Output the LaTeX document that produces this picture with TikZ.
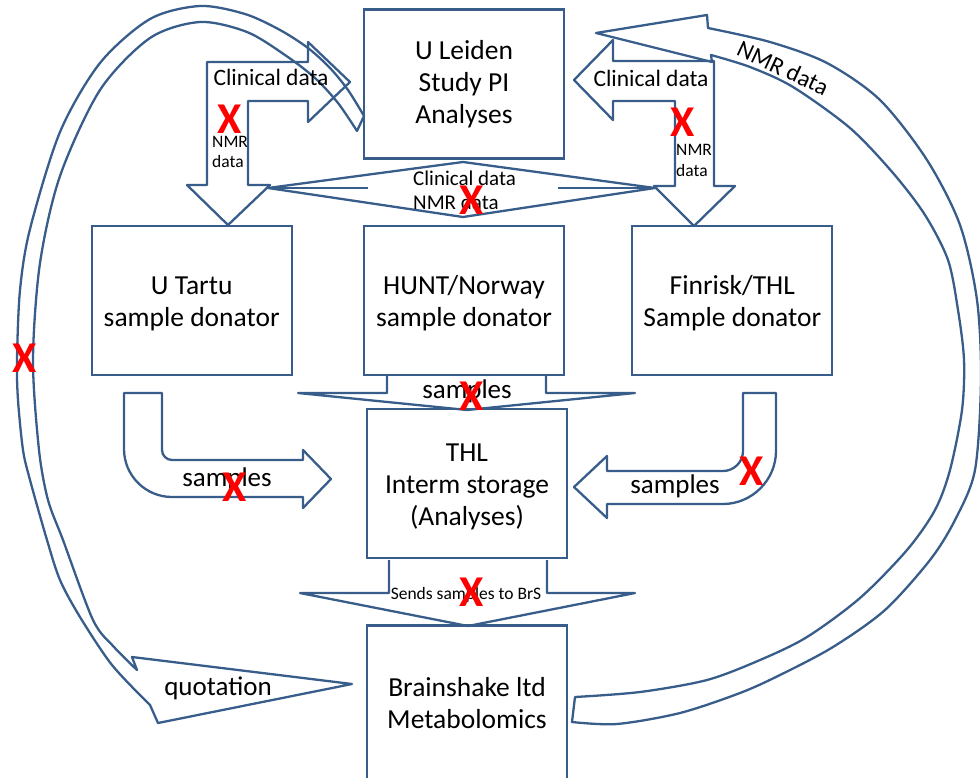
\documentclass[tikz,border=0pt]{standalone}
\usepackage{fontspec}
\setmainfont{Carlito}
\usetikzlibrary{positioning}
\definecolor{shapeblue}{HTML}{385D8A}
\newcommand{\boxstrut}{\rule{0pt}{25pt}}

\begin{document}
\begin{tikzpicture}[
  x=1pt, y=-1pt,
  box/.style={
    draw=shapeblue,
    line width=2.3pt,
    align=center,
    minimum width=200pt,
    minimum height=149pt,
    font=\fontsize{27.5}{32}\selectfont
  },
  blockarrow/.style={draw=shapeblue, line width=2.3pt, line join=round},
  txt/.style={inner sep=0pt, anchor=base, font=\fontsize{27}{32}\selectfont},
  txtmid/.style={txt, font=\fontsize{23.5}{27}\selectfont},
  txtsmall/.style={txt, font=\fontsize{21}{25}\selectfont},
  txttiny/.style={txt, font=\fontsize{17.5}{20}\selectfont},
  cross/.style={inner sep=0pt, text=red, font=\bfseries\fontsize{44}{44}\selectfont}
]
\useasboundingbox (0,0) rectangle (980,777);

\node[box] (leiden) at (464,84) {U Leiden\\Study PI\\Analyses};
\node[box, below=65pt of leiden] (hunt) {\boxstrut HUNT/Norway\\sample donator};
\node[box, left=70pt of hunt] (tartu) {\boxstrut U Tartu\\sample donator};
\node[box, right=66pt of hunt] (finrisk) {\boxstrut Finrisk/THL\\Sample donator};
\node[box, below=32pt of hunt, xshift=3pt] (thl) {\boxstrut THL\\Interm storage\\(Analyses)};
\node[box, below=65pt of thl, minimum height=156pt] (brain) {Brainshake ltd\\Metabolomics};

\draw[blockarrow] (207,185) -- (207,62) -- (308,62) -- (308,42) -- (350,82) -- (308,122) -- (308,101) -- (248,101) -- (248,185) -- (270,185) -- (228,225) -- (187,185) -- cycle;
\draw[blockarrow] (714,186) -- (714,61) -- (613,61) -- (613,40) -- (574,80) -- (613,120) -- (613,101) -- (675,101) -- (675,186) -- (654,186) -- (694,226) -- (735,186) -- cycle;

\draw[blockarrow] (268,188) -- (463,162) -- (655,188) -- (463,217) -- cycle;
\draw[blockarrow] (268,188) -- (368,188) (558,188) -- (655,188);

\draw[blockarrow] (387,376) -- (387,393) -- (298,393) -- (467,410) -- (635,393) -- (546,393) -- (546,376);
\draw[blockarrow] (389,560) -- (389,593) -- (300,593) -- (468,626) -- (635,593) -- (547,593) -- (547,560);

\draw[blockarrow] (124,393) -- (162,393) -- (162,450) .. controls (162,455.5) and (166.5,460) .. (172,460) -- (303,460) -- (303,450) -- (331,479) -- (303,508) -- (303,497) -- (172,497) .. controls (145.5,497) and (124,475.5) .. (124,449) -- cycle;
\draw[blockarrow] (743,393) -- (776,393) -- (776,451) .. controls (776,480) and (752,504) .. (723,504) -- (607,504) -- (607,518) -- (574,487) -- (607,456) -- (607,471) -- (723,471) .. controls (734,471) and (743,462) .. (743,451) -- cycle;

\draw[blockarrow] (596,33) -- (707,15) -- plot[smooth] coordinates {(708,28) (770,42) (827,63) (880,100) (927,160) (960,225) (977,300) (981,380) (975,470) (955,520) (930,560) (885,610) (833,647) (780,675) (740,693) (680,713) (617,724) (572,722)} -- plot[smooth] coordinates {(575,697) (640,692) (707,680) (760,660) (807,637) (860,598) (907,550) (935,510) (950,470) (962,410) (964,360) (958,310) (948,260) (925,215) (893,173) (850,128) (793,87) (750,67) (711,55)} -- (712,62) -- cycle;

\draw[blockarrow] (364,116) -- plot[smooth] coordinates {(357,131) (338,103) (315,78) (285,55) (247,32) (200,22) (150,38) (100,90) (60,176) (40,263) (33,360) (39,450) (48,500) (63,540) (93,620) (114,647) (137,670)} -- (132,657) -- (352,684) -- (158,723) -- plot[smooth] coordinates {(150,705) (112,665) (80,617) (60,580) (47,540) (30,480) (23,450) (18,400) (17,360) (20,290) (30,229) (60,132) (100,63) (150,19) (200,6) (245,14) (280,30) (308,48) (330,68) (348,90) (364,116)} -- cycle;

\node[txtmid] (clinleft) at (271,85) {Clinical data};
\node[txtmid] (clinright) at (651,86) {Clinical data};
\node[txttiny, anchor=base west] (nmrleft) at (212,147) {NMR};
\node[txttiny, anchor=base west] (dataleft) at (212,167) {data};
\node[txttiny, anchor=base west] (nmrright) at (676,155) {NMR};
\node[txttiny, anchor=base west] (dataright) at (676,176) {data};
\node[txtsmall, anchor=base west] (clinmid) at (413,185) {Clinical data};
\node[txtsmall, anchor=base west] (nmrmid) at (413,209) {NMR data};
\node[txt] (samplesmid) at (467,398) {samples};
\node[txttiny] (sends) at (466,599) {Sends samples to BrS};
\node[txt] (samplesleft) at (227,486) {samples};
\node[txt] (samplesright) at (675,493) {samples};
\node[txt] (quote) at (218,695) {quotation};
\node[txt, rotate=-25, anchor=center, font=\fontsize{24}{28}\selectfont] (nmrarc) at (783,68) {NMR data};

\node[cross] (xleft) at (230,119) {X};
\node[cross] (xright) at (683,122) {X};
\node[cross] (xmid) at (472,200) {X};
\node[cross] (xhunt) at (472,396) {X};
\node[cross] (xsends) at (472,592) {X};
\node[cross] (xtartu) at (235,487) {X};
\node[cross] (xfin) at (752,471) {X};
\node[cross] (xquote) at (25,358) {X};

\end{tikzpicture}
\end{document}
